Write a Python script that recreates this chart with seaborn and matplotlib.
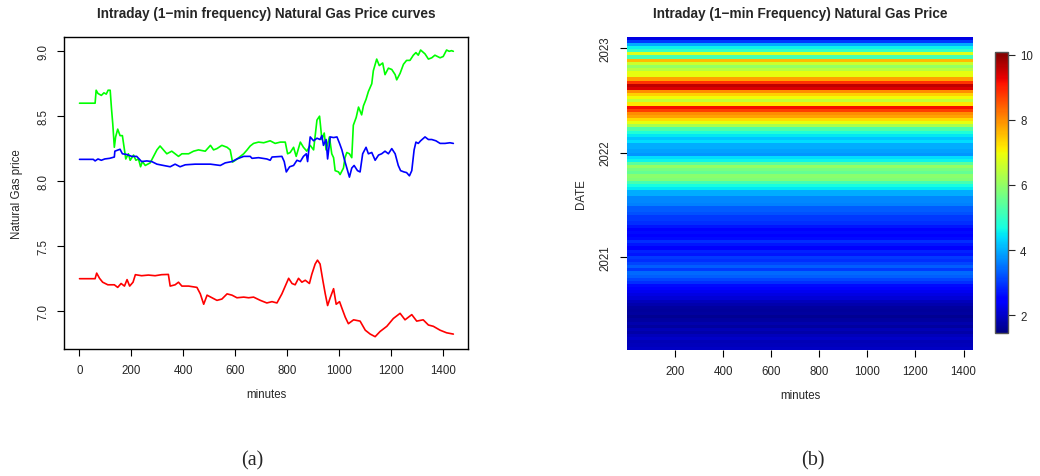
import numpy as np
import pandas as pd
import matplotlib
matplotlib.use("Agg")
import matplotlib.pyplot as plt
import seaborn as sns

# ---------------- data: panel (a) ----------------
green_minutes = [1, 61, 65, 72, 85, 95, 104, 111, 119, 124, 129, 135, 140, 148, 157, 166, 174, 179,
                 189, 196, 209, 218, 228, 236, 243, 254, 273, 286, 299, 311, 324, 337, 356, 382,
                 395, 421, 440, 459, 485, 505, 517, 530, 549, 569, 581, 590, 601, 620, 633, 646,
                 658, 671, 690, 710, 735, 754, 774, 793, 802, 812, 825, 835, 851, 863, 876, 889,
                 902, 915, 925, 934, 943, 950, 963, 972, 979, 985, 998, 1004, 1017, 1023, 1030,
                 1040, 1049, 1055, 1066, 1075, 1087, 1094, 1104, 1113, 1126, 1132, 1145, 1155,
                 1168, 1177, 1190, 1203, 1216, 1222, 1235, 1248, 1260, 1273, 1286, 1296, 1305,
                 1314, 1331, 1344, 1357, 1369, 1389, 1401, 1414, 1424, 1433, 1440]
green_price = [8.60, 8.60, 8.70, 8.675, 8.66, 8.68, 8.67, 8.70, 8.70, 8.56, 8.44, 8.26, 8.34, 8.40,
               8.35, 8.35, 8.24, 8.17, 8.21, 8.16, 8.20, 8.16, 8.17, 8.11, 8.15, 8.12, 8.14, 8.19,
               8.24, 8.27, 8.24, 8.21, 8.23, 8.19, 8.21, 8.21, 8.23, 8.24, 8.23, 8.275, 8.24,
               8.25, 8.275, 8.26, 8.24, 8.146, 8.16, 8.19, 8.21, 8.24, 8.27, 8.29, 8.30, 8.295,
               8.31, 8.29, 8.30, 8.30, 8.21, 8.22, 8.26, 8.19, 8.30, 8.26, 8.23, 8.275, 8.24,
               8.47, 8.50, 8.32, 8.37, 8.24, 8.34, 8.21, 8.18, 8.08, 8.07, 8.05, 8.10, 8.18,
               8.22, 8.21, 8.18, 8.43, 8.49, 8.57, 8.51, 8.58, 8.63, 8.69, 8.75, 8.85, 8.94,
               8.89, 8.91, 8.82, 8.87, 8.86, 8.82, 8.78, 8.83, 8.90, 8.93, 8.93, 8.97, 8.99,
               8.97, 9.01, 8.98, 8.94, 8.95, 8.97, 8.95, 8.96, 9.01, 9.00, 9.005, 9.00]

blue_minutes = [1, 54, 61, 72, 85, 98, 117, 135, 137, 157, 166, 182, 202, 221, 240, 260, 279, 299,
                324, 350, 369, 388, 408, 446, 482, 505, 543, 562, 588, 607, 633, 658, 665, 690,
                722, 735, 742, 780, 789, 797, 810, 825, 838, 851, 863, 874, 879, 889, 902, 915,
                927, 934, 940, 950, 956, 966, 979, 992, 1002, 1011, 1020, 1030, 1040, 1049, 1058,
                1071, 1081, 1091, 1104, 1113, 1126, 1139, 1152, 1164, 1177, 1190, 1203, 1216,
                1228, 1237, 1250, 1260, 1271, 1280, 1289, 1296, 1305, 1314, 1331, 1344, 1357,
                1373, 1389, 1408, 1427, 1440]
blue_price = [8.167, 8.167, 8.155, 8.17, 8.16, 8.17, 8.175, 8.185, 8.23, 8.245, 8.21, 8.205, 8.19,
              8.19, 8.15, 8.155, 8.15, 8.13, 8.12, 8.11, 8.13, 8.11, 8.125, 8.13, 8.13, 8.13,
              8.12, 8.14, 8.15, 8.17, 8.19, 8.19, 8.175, 8.18, 8.17, 8.16, 8.185, 8.19, 8.15,
              8.07, 8.11, 8.12, 8.16, 8.15, 8.19, 8.21, 8.15, 8.34, 8.31, 8.33, 8.32, 8.35,
              8.275, 8.32, 8.17, 8.34, 8.335, 8.34, 8.29, 8.24, 8.17, 8.10, 8.03, 8.10, 8.12,
              8.08, 8.07, 8.21, 8.26, 8.21, 8.22, 8.16, 8.20, 8.21, 8.23, 8.21, 8.25, 8.21,
              8.12, 8.08, 8.07, 8.065, 8.04, 8.08, 8.24, 8.30, 8.29, 8.31, 8.34, 8.32, 8.32,
              8.31, 8.29, 8.29, 8.295, 8.29]

red_minutes = [1, 61, 67, 78, 90, 110, 135, 148, 161, 174, 184, 194, 207, 216, 240, 266, 292, 317,
               343, 350, 369, 382, 395, 421, 453, 466, 479, 492, 511, 530, 549, 569, 588, 607,
               633, 652, 671, 697, 722, 742, 761, 780, 793, 806, 819, 831, 844, 857, 870, 886,
               895, 908, 917, 927, 938, 947, 956, 966, 979, 989, 1002, 1011, 1024, 1036, 1056,
               1081, 1101, 1120, 1139, 1158, 1184, 1209, 1235, 1254, 1280, 1299, 1324, 1344,
               1363, 1389, 1414, 1440]
red_price = [7.247, 7.247, 7.29, 7.25, 7.22, 7.20, 7.20, 7.18, 7.21, 7.19, 7.24, 7.19, 7.22,
             7.278, 7.27, 7.275, 7.27, 7.278, 7.28, 7.19, 7.20, 7.22, 7.19, 7.19, 7.18, 7.13,
             7.05, 7.12, 7.10, 7.08, 7.09, 7.13, 7.12, 7.10, 7.105, 7.10, 7.105, 7.08, 7.06,
             7.07, 7.06, 7.13, 7.19, 7.25, 7.21, 7.20, 7.25, 7.22, 7.235, 7.21, 7.28, 7.36,
             7.39, 7.36, 7.23, 7.13, 7.04, 7.10, 7.17, 7.05, 7.07, 7.02, 6.95, 6.90, 6.93,
             6.92, 6.85, 6.82, 6.80, 6.84, 6.88, 6.94, 6.98, 6.93, 6.97, 6.92, 6.93, 6.89,
             6.88, 6.85, 6.83, 6.82]

x_ticks_a = [0, 200, 400, 600, 800, 1000, 1200, 1400]
y_ticks_a = [7.0, 7.5, 8.0, 8.5, 9.0]

# ---------------- data: panel (b) ----------------
# daily price level (top row = most recent date, bottom row = oldest)
daily_price_top_to_bottom = [
    2.2, 3.0, 4.0, 4.6, 5.0, 6.8, 5.2, 7.6, 6.6, 6.0,
    6.4, 6.9, 6.9, 7.8, 8.8, 9.6, 9.4, 8.0, 7.4, 7.0,
    6.5, 7.2, 9.2, 8.7, 8.0, 7.8, 7.3, 6.9, 6.2, 5.3,
    4.8, 4.5, 4.2, 4.4, 4.0, 4.0, 3.9, 3.8, 4.4, 4.6,
    5.4, 6.0, 5.7, 5.5, 5.9, 5.8, 5.2, 4.7, 4.5, 4.0,
    4.0, 3.7, 3.7, 3.6, 3.3, 3.3, 3.2, 3.0, 3.0, 2.9,
    2.7, 2.5, 2.6, 2.4, 2.6, 2.9, 2.7, 2.5, 2.8, 2.7,
    3.0, 2.9, 3.1, 3.3, 3.0, 3.4, 3.3, 3.1, 2.9, 2.6,
    2.4, 2.3, 2.2, 2.1, 1.9, 1.8, 1.7, 1.65, 1.7, 1.6,
    1.7, 1.8, 1.7, 1.85, 1.75, 1.9, 2.0, 1.85, 1.9, 1.95,
]
date_first, date_last = 2020.11, 2023.11
x_ticks_b = [200, 400, 600, 800, 1000, 1200, 1400]
y_ticks_b = [2021, 2022, 2023]
cbar_ticks = [2, 4, 6, 8, 10]
color_min, color_max = 1.44, 10.08

# ---------------- style ----------------
sns.set_style("white")
plt.rcParams['font.family'] = ['Liberation Sans', 'DejaVu Sans']
FS = 8.3
TFS = 9.8
plt.rcParams['font.size'] = FS

fig = plt.figure(figsize=(10.4, 4.77), dpi=100)
W, H = 1040.0, 477.0

def px_axes(l, t, r, b):
    return fig.add_axes([l / W, 1 - b / H, (r - l) / W, (b - t) / H])

# ---------------- panel (a) ----------------
ax1 = px_axes(64.3, 38.3, 468.3, 350.0)
df = pd.concat([
    pd.DataFrame({"minutes": green_minutes, "price": green_price, "series": "g"}),
    pd.DataFrame({"minutes": blue_minutes, "price": blue_price, "series": "b"}),
    pd.DataFrame({"minutes": red_minutes, "price": red_price, "series": "r"}),
])
sns.lineplot(data=df, x="minutes", y="price", hue="series",
             palette={"g": "#00FF00", "b": "#0000FF", "r": "#FF0000"},
             linewidth=1.2, legend=False, ax=ax1, estimator=None, sort=False)
ax1.set_xlim(-57.6, 1497.6)
ax1.set_ylim(6.705, 9.108)
ax1.set_xticks(x_ticks_a)
ax1.set_xticklabels([str(v) for v in x_ticks_a])
ax1.set_yticks(y_ticks_a)
ax1.set_yticklabels([f"{v:.1f}" for v in y_ticks_a], rotation=90, va="center")
for s in ax1.spines.values():
    s.set_visible(True)
    s.set_color("black")
    s.set_linewidth(1.0)
ax1.tick_params(direction="out", length=5, width=0.8, color="black", labelsize=FS, pad=6,
                bottom=True, left=True)
ax1.set_xlabel("minutes", fontsize=FS)
ax1.set_ylabel("Natural Gas price", fontsize=FS)
ax1.xaxis.set_label_coords(0.5, -0.125)
ax1.yaxis.set_label_coords(-0.103, 0.5)
ax1.set_title("Intraday (1\u2212min frequency) Natural Gas Price curves",
              fontsize=TFS, fontweight="bold", pad=14.5)

# ---------------- panel (b) ----------------
ax2 = px_axes(627.0, 37.7, 973.3, 350.7)
vals = np.array(daily_price_top_to_bottom[::-1])
n_rows = len(vals)
y_edges = np.linspace(date_first, date_last, n_rows + 1)
x_edges = np.array([0.5, 1440.5])
Z = vals[:, None] * np.ones((1, 1))
mesh = ax2.pcolormesh(x_edges, y_edges, Z, cmap="jet", vmin=color_min, vmax=color_max,
                      shading="flat")
ax2.set_xlim(0.5, 1440.5)
ax2.set_ylim(date_first, date_last)
ax2.set_xticks(x_ticks_b)
ax2.set_xticklabels([str(v) for v in x_ticks_b])
ax2.set_yticks(y_ticks_b)
ax2.set_yticklabels([str(v) for v in y_ticks_b], rotation=90, va="center")
for s in ax2.spines.values():
    s.set_visible(False)
ax2.tick_params(direction="out", length=5, width=0.8, color="black", labelsize=FS, pad=6,
                bottom=True, left=True)
ax2.set_xlabel("minutes", fontsize=FS)
ax2.set_ylabel("DATE", fontsize=FS)
ax2.xaxis.set_label_coords(0.5, -0.125)
ax2.yaxis.set_label_coords(-0.115, 0.5)
ax2.set_title("Intraday (1\u2212min Frequency) Natural Gas Price",
              fontsize=TFS, fontweight="bold", pad=14.5)

cax = px_axes(995.0, 53.3, 1007.7, 334.3)
cb = fig.colorbar(mesh, cax=cax, ticks=cbar_ticks)
cb.outline.set_edgecolor("#555555")
cb.outline.set_linewidth(1.0)
cax.tick_params(direction="out", length=5, width=0.8, labelsize=FS, pad=4, right=True)
cax.set_yticklabels([str(v) for v in cbar_ticks])

# ---------------- sub-captions ----------------
fig.text(252 / W, 1 - 461 / H, "(a)", ha="center", va="center", fontsize=14.5,
         family=["Liberation Serif", "DejaVu Serif"])
fig.text(813 / W, 1 - 461 / H, "(b)", ha="center", va="center", fontsize=14.5,
         family=["Liberation Serif", "DejaVu Serif"])

fig.savefig("out.png", dpi=100)
